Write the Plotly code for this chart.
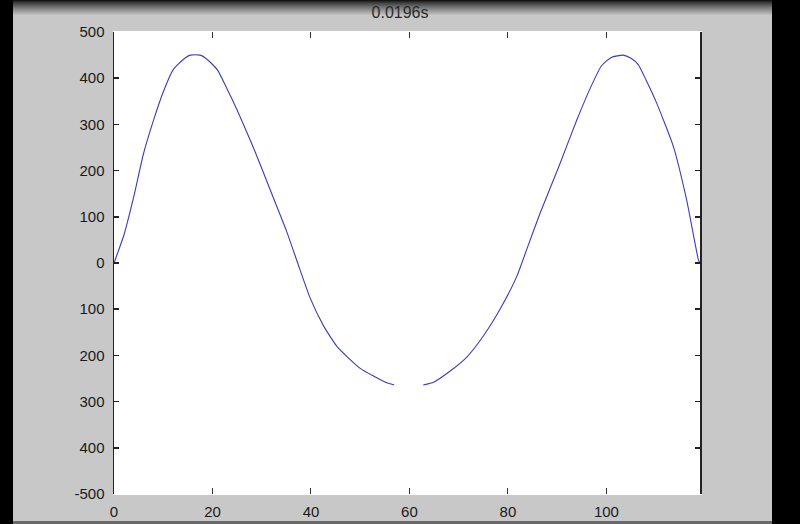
import plotly.graph_objects as go

# ---- data ----
sample_x = [0, 2, 4, 6, 8, 10, 12, 14, 15.5, 17.5, 19, 21, 23, 25, 28.3, 32.4, 35, 37.3,
            39.8, 42.5, 45.3, 50, 55.1, 56.9, 59.9, 62.8, 64.9, 68, 71.7, 75, 78.5, 81.8,
            84, 86.5, 90.6, 94, 97, 99, 101, 103.4, 105, 106.5, 108, 110.2, 113.6, 116.3,
            118.7, 119]
sample_y = [0, 60, 143, 237, 308, 370, 418, 440, 450, 450, 440, 418, 376, 331, 250, 140, 70, 0,
            -75, -135, -181, -228, -258, -264, None, -264, -258, -236, -203, -158, -98, -29,
            35, 107, 216, 310, 385, 427, 445, 450, 443, 429, 397, 346, 252, 136,
            6, 0]

x_tick_vals = [0, 20, 40, 60, 80, 100]
x_tick_text = ["0", "20", "40", "60", "80", "100"]
y_tick_vals = [500, 400, 300, 200, 100, 0, -100, -200, -300, -400, -500]
y_tick_text = ["500", "400", "300", "200", "100", "0", "100", "200", "300", "400", "-500"]
title_text = "0.0196s"

# ---- layout geometry (pixels) ----
W, H = 800, 524
ML, MR, MT, MB = 114, 100, 32, 30
PW, PH = W - ML - MR, H - MT - MB


def px_x(p):
    return (p - ML) / PW


def px_y(p):
    return 1 - (p - MT) / PH


fig = go.Figure()
fig.add_trace(go.Scatter(
    x=sample_x, y=sample_y, mode="lines",
    line=dict(color="#3c3cb8", width=1.1, shape="spline", smoothing=0.5),
    connectgaps=False, hoverinfo="skip", showlegend=False,
))

shapes = []
# dark gradient at top
n = 16
for i in range(n):
    t = i / (n - 1)
    c = int(20 + (200 - 20) * (t ** 0.8))
    shapes.append(dict(type="rect", xref="paper", yref="paper",
                       x0=px_x(0), x1=px_x(W), y0=px_y(i + 1), y1=px_y(i),
                       fillcolor=f"rgb({c},{c},{c})", line_width=0, layer="below"))
# thin dark line at bottom
shapes.append(dict(type="rect", xref="paper", yref="paper",
                   x0=px_x(0), x1=px_x(W), y0=px_y(H), y1=px_y(521),
                   fillcolor="#6a6a6a", line_width=0, layer="below"))
# black side bars
shapes.append(dict(type="rect", xref="paper", yref="paper",
                   x0=px_x(0), x1=px_x(13), y0=px_y(H), y1=px_y(0),
                   fillcolor="black", line_width=0, layer="above"))
shapes.append(dict(type="rect", xref="paper", yref="paper",
                   x0=px_x(772), x1=px_x(W), y0=px_y(H), y1=px_y(0),
                   fillcolor="black", line_width=0, layer="above"))

fig.update_layout(
    width=W, height=H,
    margin=dict(l=ML, r=MR, t=MT, b=MB, pad=0, autoexpand=False),
    paper_bgcolor="#c8c8c8",
    plot_bgcolor="white",
    font=dict(family="Liberation Sans, Arial, sans-serif", size=15, color="#1a1a1a"),
    title=dict(text=title_text, x=400 / W, xanchor="center",
               y=1 - 12 / H, yanchor="middle", automargin=False,
               font=dict(size=16, color="#2a2a2a")),
    shapes=shapes,
    xaxis=dict(range=[0, 119], tickvals=x_tick_vals, ticktext=x_tick_text,
               automargin=False,
               showgrid=False, zeroline=False, showline=True, linecolor="white",
               linewidth=1, ticks="inside", ticklen=6, tickwidth=1, tickcolor="#333",
               mirror="ticks", ticklabelstandoff=4),
    yaxis=dict(range=[-500, 500], tickvals=y_tick_vals, ticktext=y_tick_text,
               automargin=False,
               showgrid=False, zeroline=False, showline=True, linecolor="#222",
               linewidth=1.5, mirror="ticks",
               ticks="inside", ticklen=5, tickwidth=1.5, tickcolor="#222",
               ticklabelstandoff=5),
)

fig.write_html(
    "out.html",
    config={"displayModeBar": False, "staticPlot": True},
    post_script="document.body.style.margin='0';document.body.style.padding='0';"
                "document.body.style.background='#000';document.body.style.overflow='hidden';",
)
